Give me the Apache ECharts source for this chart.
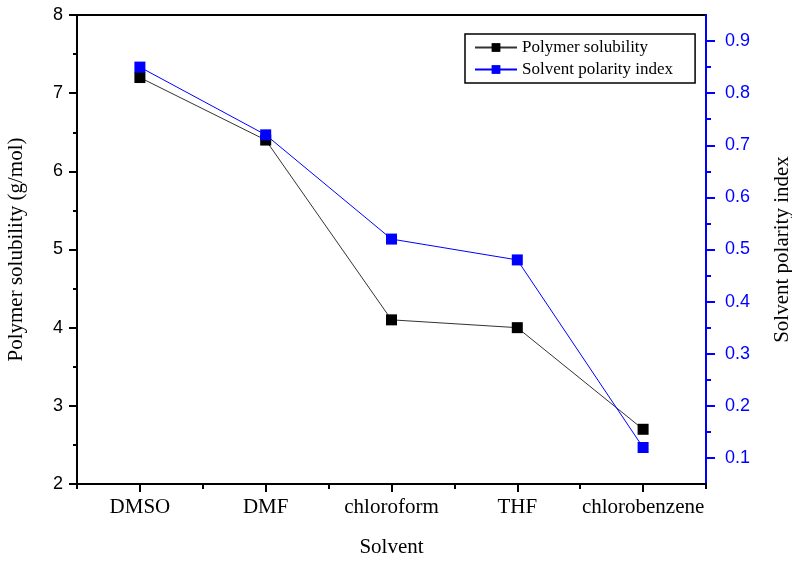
<!DOCTYPE html>
<html>
<head>
<meta charset="utf-8">
<title>Polymer solubility vs solvent polarity</title>
<script src="https://cdn.jsdelivr.net/npm/echarts@6/dist/echarts.min.js"></script>
<style>
  html, body { margin: 0; padding: 0; background: #fff; }
  #chart { width: 792px; height: 566px; }
</style>
</head>
<body>
<div id="chart"></div>
<script>
// data
const solvents = ['DMSO', 'DMF', 'chloroform', 'THF', 'chlorobenzene']
const solubility = [7.2, 6.4, 4.1, 4.0, 2.7]
const polarityIndex = [0.85, 0.72, 0.52, 0.48, 0.12]
const rightMajorTicks = [0.1, 0.2, 0.3, 0.4, 0.5, 0.6, 0.7, 0.8, 0.9]
const rightMinorTicks = [0.15, 0.25, 0.35, 0.45, 0.55, 0.65, 0.75, 0.85]

const serif = '"Liberation Serif", "Times New Roman", serif'
const sans = '"Liberation Sans", Arial, sans-serif'
const blue = '#0000ff'

const chart = echarts.init(document.getElementById('chart'), null, { renderer: 'canvas' })

const option = {
  backgroundColor: '#fff',
  animation: false,
  grid: {
    left: 77,
    right: 86,
    top: 15,
    bottom: 82,
    outerBoundsMode: 'none',
    containLabel: false,
    show: true,
    borderColor: '#000',
    borderWidth: 2
  },
  legend: {
    orient: 'vertical',
    left: 465,
    top: 34,
    padding: [5, 22, 5, 9],
    itemGap: 5,
    itemWidth: 42,
    itemHeight: 11,
    borderColor: '#000',
    borderWidth: 1.5,
    backgroundColor: '#fff',
    textStyle: { fontFamily: serif, fontSize: 17, color: '#000' },
    data: ['Polymer solubility', 'Solvent polarity index']
  },
  xAxis: [{
    type: 'category',
    data: solvents,
    position: 'bottom',
    boundaryGap: true,
    axisLine: { lineStyle: { color: '#000', width: 2 } },
    axisTick: { show: true, interval: 0, alignWithLabel: false, length: 5, lineStyle: { color: '#000', width: 2 } },
    axisLabel: { interval: 0, fontFamily: serif, fontSize: 21, color: '#000', margin: 13 },
    splitLine: { show: false },
    name: 'Solvent',
    nameLocation: 'middle',
    nameGap: 53,
    nameTextStyle: { fontFamily: serif, fontSize: 21, color: '#000' }
  }, {
    // major ticks at the category centres
    type: 'category',
    data: solvents,
    position: 'bottom',
    boundaryGap: true,
    axisLine: { show: false },
    axisTick: { show: true, interval: 0, alignWithLabel: true, length: 8, lineStyle: { color: '#000', width: 2 } },
    axisLabel: { show: false, interval: 0 },
    splitLine: { show: false }
  }],
  yAxis: [{
    type: 'value',
    position: 'left',
    min: 2,
    max: 8,
    interval: 1,
    axisLine: { show: true, lineStyle: { color: '#000', width: 2 } },
    axisTick: { show: true, length: 8, lineStyle: { color: '#000', width: 2 } },
    minorTick: { show: true, splitNumber: 2, length: 4, lineStyle: { color: '#000', width: 2 } },
    axisLabel: { fontFamily: sans, fontSize: 18, color: '#000', margin: 14 },
    splitLine: { show: false },
    minorSplitLine: { show: false },
    name: 'Polymer solubility (g/mol)',
    nameLocation: 'middle',
    nameRotate: 90,
    nameGap: 50,
    nameTextStyle: { fontFamily: serif, fontSize: 21, color: '#000' }
  }, {
    type: 'value',
    position: 'right',
    min: 0.05,
    max: 0.95,
    axisLine: { show: true, lineStyle: { color: blue, width: 2 } },
    axisTick: { show: true, length: 9, customValues: rightMajorTicks, lineStyle: { color: blue, width: 2 } },
    axisLabel: {
      fontFamily: sans, fontSize: 18, color: blue, margin: 19,
      customValues: rightMajorTicks,
      formatter: v => v.toFixed(1)
    },
    splitLine: { show: false },
    name: 'Solvent polarity index',
    nameLocation: 'middle',
    nameRotate: 90,
    nameGap: 66,
    nameTextStyle: { fontFamily: serif, fontSize: 21, color: '#000' }
  }, {
    // minor ticks of the right axis
    type: 'value',
    position: 'right',
    offset: 0,
    min: 0.05,
    max: 0.95,
    axisLine: { show: false },
    axisTick: { show: true, length: 5, customValues: rightMinorTicks, lineStyle: { color: blue, width: 2 } },
    axisLabel: { show: false },
    splitLine: { show: false }
  }],
  series: [{
    name: 'Polymer solubility',
    type: 'line',
    xAxisIndex: 0,
    yAxisIndex: 0,
    data: solubility,
    symbol: 'rect',
    symbolSize: 11,
    lineStyle: { color: '#333', width: 1 },
    itemStyle: { color: '#000' }
  }, {
    name: 'Solvent polarity index',
    type: 'line',
    xAxisIndex: 0,
    yAxisIndex: 1,
    data: polarityIndex,
    symbol: 'rect',
    symbolSize: 11,
    lineStyle: { color: blue, width: 1 },
    itemStyle: { color: blue }
  }]
}

chart.setOption(option)
</script>
</body>
</html>
